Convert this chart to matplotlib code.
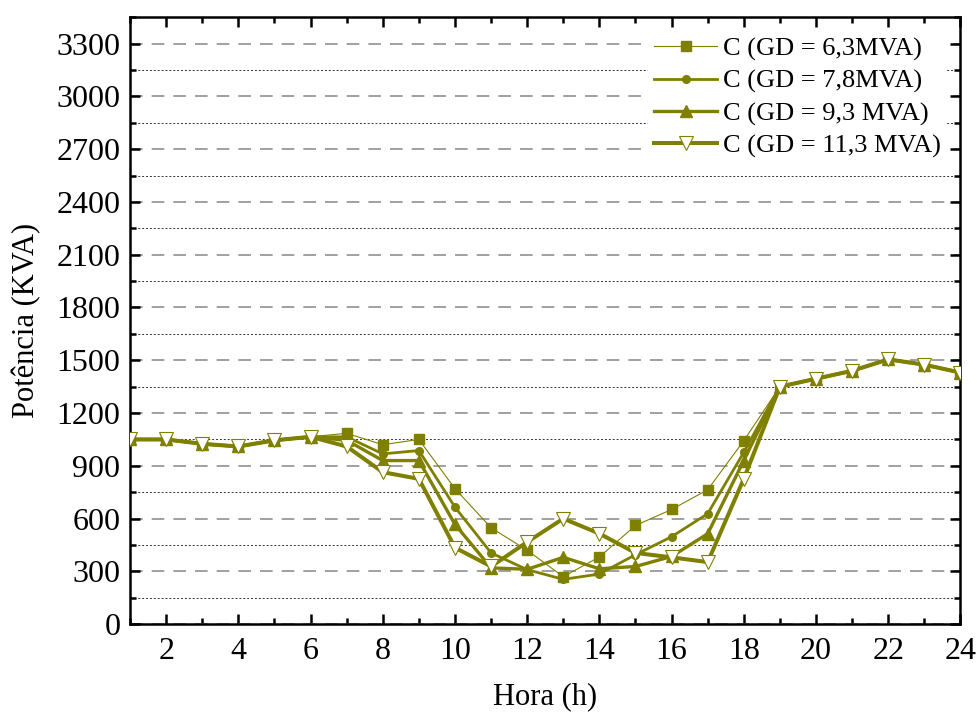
import numpy as np
import matplotlib.pyplot as plt
from matplotlib.ticker import MultipleLocator

plt.rcParams['font.family'] = ['Liberation Serif', 'DejaVu Serif']

hours = np.arange(1, 25)

# potência por hora para cada nível de geração distribuída
gd_63 = [1050, 1050, 1025, 1010, 1045, 1065, 1085, 1020, 1050, 770, 548, 420,
         270, 382, 561, 652, 764, 1043, 1350, 1395, 1440, 1505, 1475, 1430]
gd_78 = [1050, 1050, 1025, 1010, 1045, 1065, 1065, 968, 987, 665, 405, 310,
         255, 285, 395, 497, 628, 977, 1350, 1395, 1440, 1505, 1475, 1430]
gd_93 = [1050, 1050, 1025, 1010, 1045, 1065, 1045, 930, 930, 567, 320, 312,
         380, 315, 328, 385, 514, 930, 1350, 1395, 1440, 1505, 1475, 1430]
gd_113 = [1050, 1050, 1025, 1010, 1045, 1065, 1010, 864, 826, 435, 328, 467,
          600, 515, 405, 380, 353, 826, 1350, 1395, 1440, 1505, 1475, 1430]

labels = ['C (GD = 6,3MVA)', 'C (GD = 7,8MVA)', 'C (GD = 9,3 MVA)', 'C (GD = 11,3 MVA)']
olive = '#808000'

fig = plt.figure(figsize=(9.78, 7.15), dpi=100)
ax = fig.add_axes([0.133, 0.127, 0.849, 0.849])

ax.plot(hours, gd_63, color=olive, lw=0.8, marker='s', ms=7, mfc=olive, mec=olive,
        label=labels[0], zorder=3)
ax.plot(hours, gd_78, color=olive, lw=2.0, marker='o', ms=5.5, mfc=olive, mec=olive,
        label=labels[1], zorder=3)
ax.plot(hours, gd_93, color=olive, lw=2.4, marker='^', ms=9, mfc=olive, mec=olive,
        label=labels[2], zorder=3)
ax.plot(hours, gd_113, color=olive, lw=2.9, marker='v', ms=10, mfc='white', mec=olive,
        mew=0.8, label=labels[3], zorder=3)

ax.set_xlim(1, 24)
ax.set_ylim(0, 3450)
ax.xaxis.set_major_locator(MultipleLocator(2))
ax.xaxis.set_minor_locator(MultipleLocator(1))
ax.yaxis.set_major_locator(MultipleLocator(300))
ax.yaxis.set_minor_locator(MultipleLocator(150))

ax.grid(axis='y', which='major', color='#999999', ls=(0, (7, 5)), lw=1.3, zorder=1)
ax.grid(axis='y', which='minor', color='#333333', ls=(0, (2, 2)), lw=0.7, zorder=1)
ax.set_axisbelow(True)

ax.tick_params(which='both', direction='in', top=True, right=True, width=1.8,
               labelsize=23)
ax.tick_params(which='major', length=7)
ax.tick_params(which='minor', length=4)
ax.tick_params(axis='x', which='major', pad=9)
ax.tick_params(axis='y', which='major', pad=7)
for sp in ax.spines.values():
    sp.set_linewidth(1.8)

ax.set_xlabel('Hora (h)', fontsize=22, labelpad=12)
ax.set_ylabel('Potência (KVA)', fontsize=22, labelpad=11)

# legend box is opaque so the grid stops behind it
leg = ax.legend(loc='upper right', frameon=True, fancybox=False, fontsize=19,
                handlelength=2.4, handletextpad=0.2, labelspacing=0.32,
                borderaxespad=0.5, borderpad=0.25, facecolor='white',
                edgecolor='none', framealpha=1)
leg.set_zorder(2)

fig.savefig('out.png', dpi=100)
